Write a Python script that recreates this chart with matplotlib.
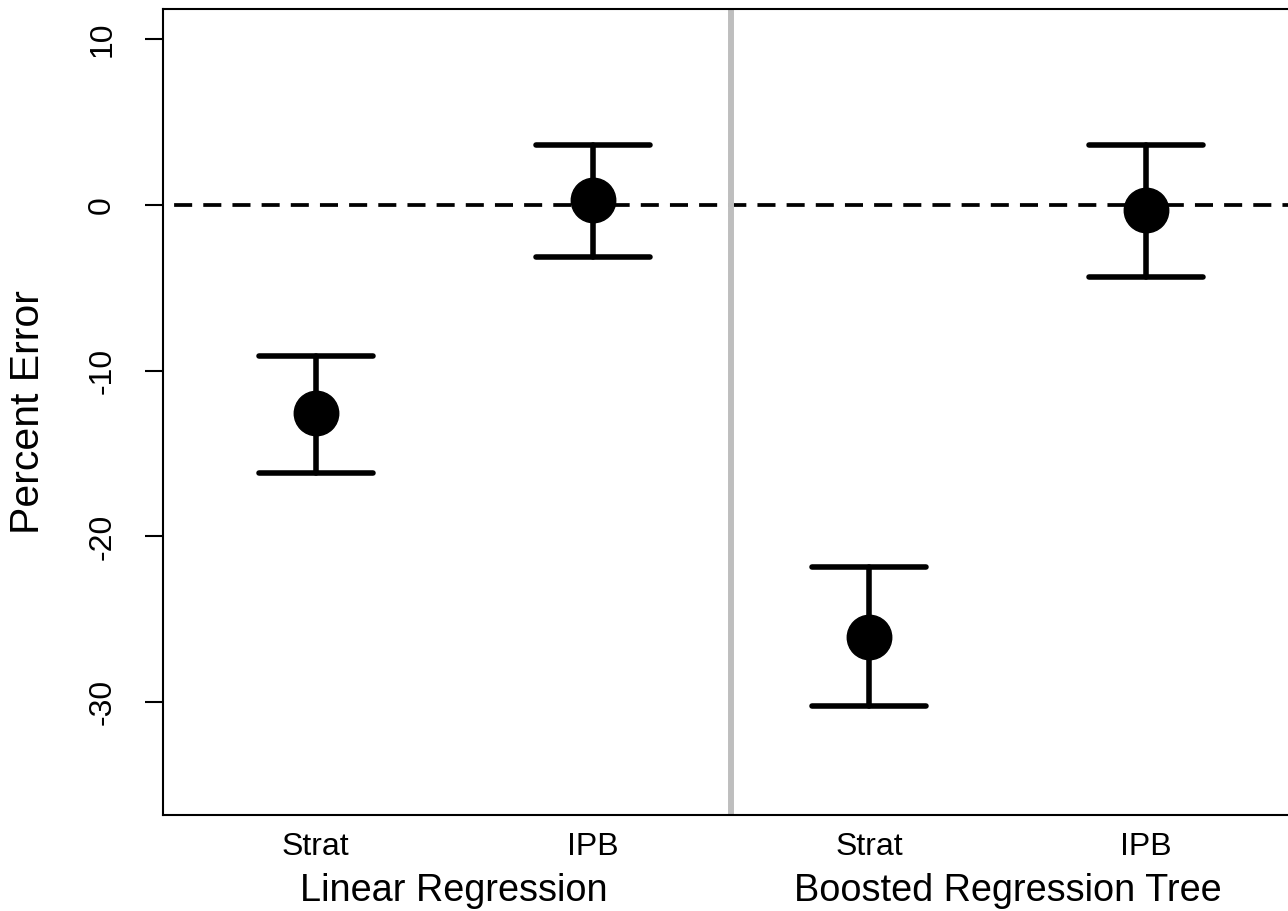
import matplotlib
matplotlib.use('Agg')
import matplotlib.pyplot as plt
import numpy as np

plt.rcParams['font.family'] = ['Liberation Sans', 'DejaVu Sans']
plt.rcParams['lines.scale_dashes'] = False
plt.rcParams['axes.unicode_minus'] = False

# data
methods = ['Strat', 'IPB', 'Strat', 'IPB']
models = ['Linear Regression', 'Boosted Regression Tree']
model_pos = [1.5, 3.5]
pos = np.array([1, 2, 3, 4])
mean_err = [-12.59, 0.28, -26.06, -0.32]
upper = [-9.14, 3.61, -21.85, 3.61]
lower = [-16.16, -3.13, -30.20, -4.37]
yticks = [10, 0, -10, -20, -30]

cap = 0.206

fig = plt.figure(figsize=(12.88, 9.11), dpi=100)
ax = fig.add_axes([163/1288, 96/911, 1136/1288, 806/911])

ax.axhline(0, color='black', lw=2.7, ls=(13, (13, 8)), zorder=1)
ax.axvline(2.5, color='#bebebe', lw=4.3, zorder=2)

ax.vlines(pos, lower, upper, color='black', lw=4, capstyle='round', zorder=3)
ax.hlines(upper, pos - cap, pos + cap, color='black', lw=4, capstyle='round', zorder=3)
ax.hlines(lower, pos - cap, pos + cap, color='black', lw=4, capstyle='round', zorder=3)
ax.plot(pos, mean_err, 'o', ms=32, color='black', zorder=5)

ax.set_xlim(0.448, 4.552)
ax.set_ylim(-36.8, 11.8)

ax.set_yticks(yticks)
ax.tick_params(axis='y', length=13, width=1.5, labelsize=23, pad=20, labelrotation=90)
for lab in ax.get_yticklabels():
    lab.set_va('center')

ax.set_xticks(pos, methods)
ax.tick_params(axis='x', length=0, labelsize=23, pad=12)

for x, m in zip(model_pos, models):
    ax.text(x, -0.094, m, transform=ax.get_xaxis_transform(),
            ha='center', va='center', fontsize=27.3)

fig.text(28/1288, 0.548, 'Percent Error', rotation=90,
         ha='center', va='center', fontsize=29.5)

for s in ax.spines.values():
    s.set_linewidth(1.5)

fig.savefig('out.png', dpi=100)
